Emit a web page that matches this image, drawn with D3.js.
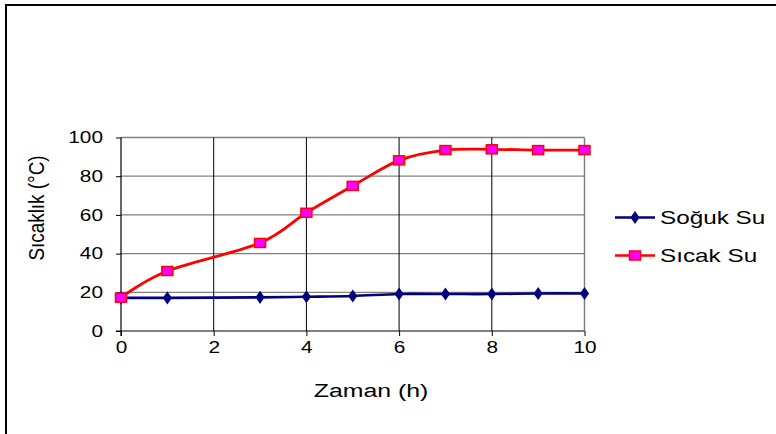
<!DOCTYPE html>
<html><head><meta charset="utf-8">
<script src="https://cdn.jsdelivr.net/npm/d3@7"></script>
<style>body{margin:0;background:#fff}svg{display:block}text{font-family:Arial,"Liberation Sans",sans-serif}</style>
</head><body><svg id="c" width="776" height="434"></svg>
<script>
const hours = [0,1,3,4,5,6,7,8,9,10];
const sogukSu = [17.1,17.1,17.4,17.7,18.1,19.1,19.1,19.1,19.4,19.4];
const sicakSu = [17.2,31.0,45.5,61.1,75.0,88.2,93.5,93.9,93.5,93.5];
const xTicks = [0,2,4,6,8,10];
const yTicks = [0,20,40,60,80,100];
const seriesNames = ["Soğuk Su","Sıcak Su"];

const svg = d3.select("#c");
svg.append("rect").attr("x",6).attr("y",5).attr("width",900).attr("height",600)
  .attr("fill","none").attr("stroke","#000").attr("stroke-width",2);

const x = d3.scaleLinear().domain([0,10]).range([121,584.5]);
const y = d3.scaleLinear().domain([0,100]).range([331,137.5]);

const g = svg.append("g");
g.selectAll(".hg").data(yTicks.slice(1)).join("line")
  .attr("x1",x(0)).attr("x2",x(10)).attr("y1",d=>y(d)).attr("y2",d=>y(d))
  .attr("stroke","#808080").attr("stroke-width",1.3);
g.selectAll(".vg").data(xTicks.slice(1,-1)).join("line")
  .attr("x1",d=>x(d)).attr("x2",d=>x(d)).attr("y1",y(0)).attr("y2",y(100))
  .attr("stroke","#000").attr("stroke-width",1);
g.append("line").attr("x1",x(10)).attr("x2",x(10)).attr("y1",y(0)).attr("y2",y(100))
  .attr("stroke","#808080").attr("stroke-width",1.5);

const xAxis = d3.axisBottom(x).tickValues(xTicks).tickSize(5).tickPadding(6).tickFormat(d3.format("d"));
const yAxis = d3.axisLeft(y).tickValues(yTicks).tickSize(5).tickPadding(13).tickFormat(d3.format("d"));
const xa = svg.append("g").attr("transform",`translate(0,${y(0)})`).call(xAxis);
const ya = svg.append("g").attr("transform",`translate(${x(0)},0)`).call(yAxis);
[xa,ya].forEach(a=>{
  a.select(".domain").remove();
  a.selectAll("line").attr("stroke","#000");
});
xa.selectAll(".tick text").each(function(){
  const t=d3.select(this); const yy=+t.attr("y");
  t.attr("font-size",16).attr("fill","#000").attr("x",null).attr("y",null)
   .attr("transform",`translate(0,${yy}) scale(1.3,1)`);
});
ya.selectAll(".tick text").each(function(){
  const t=d3.select(this); const xx=+t.attr("x");
  t.attr("font-size",16).attr("fill","#000").attr("x",null)
   .attr("transform",`translate(${xx},0) scale(1.3,1)`);
});
xa.append("line").attr("x1",x(0)-5).attr("x2",x(10)).attr("stroke","#000").attr("stroke-width",1.2);
ya.append("line").attr("y1",y(0)+5).attr("y2",y(100)).attr("stroke","#000").attr("stroke-width",1.2);

const line = d3.line().x((d,i)=>x(hours[i])).y(d=>y(d)).curve(d3.curveCardinal.tension(0));
svg.append("path").datum(sogukSu).attr("d",line).attr("fill","none").attr("stroke","#000080").attr("stroke-width",2.6);
svg.append("path").datum(sicakSu).attr("d",line).attr("fill","none").attr("stroke","#FF0000").attr("stroke-width",2.8);

const diamond = d3.symbol().type(d3.symbolDiamond).size(50);
svg.selectAll(".dm").data(sogukSu).join("path")
  .attr("transform",(d,i)=>`translate(${x(hours[i])},${y(d)}) scale(1.2,1)`).attr("d",diamond).attr("fill","#000080");
svg.selectAll(".sq").data(sicakSu).join("rect")
  .attr("x",(d,i)=>x(hours[i])-5.5).attr("y",d=>y(d)-4.5).attr("width",11).attr("height",9)
  .attr("fill","#FF00FF").attr("stroke","#FF0000").attr("stroke-width",1.5);

svg.append("text").attr("text-anchor","middle").attr("font-size",18)
  .attr("transform","translate(371,397) scale(1.38,1)").text("Zaman (h)");
svg.append("text").attr("transform","translate(44,208) rotate(-90) scale(1.05,1.25)").attr("text-anchor","middle")
  .attr("font-size",18).text("Sıcaklık (°C)");

const leg = svg.append("g");
const ly = [217.5,255.5];
const colors = ["#000080","#FF0000"];
seriesNames.forEach((n,i)=>{
  leg.append("line").attr("x1",615).attr("x2",655).attr("y1",ly[i]).attr("y2",ly[i]).attr("stroke",colors[i]).attr("stroke-width",2.6);
  if(i===0) leg.append("path").attr("transform",`translate(635,${ly[i]}) scale(1.2,1)`).attr("d",diamond).attr("fill","#000080");
  else leg.append("rect").attr("x",629.5).attr("y",ly[i]-4.5).attr("width",11).attr("height",9).attr("fill","#FF00FF").attr("stroke","#FF0000").attr("stroke-width",1.5);
  leg.append("text").attr("transform",`translate(660,${ly[i]+6.5}) scale(1.35,1)`).attr("font-size",18).text(n);
});
</script></body></html>
